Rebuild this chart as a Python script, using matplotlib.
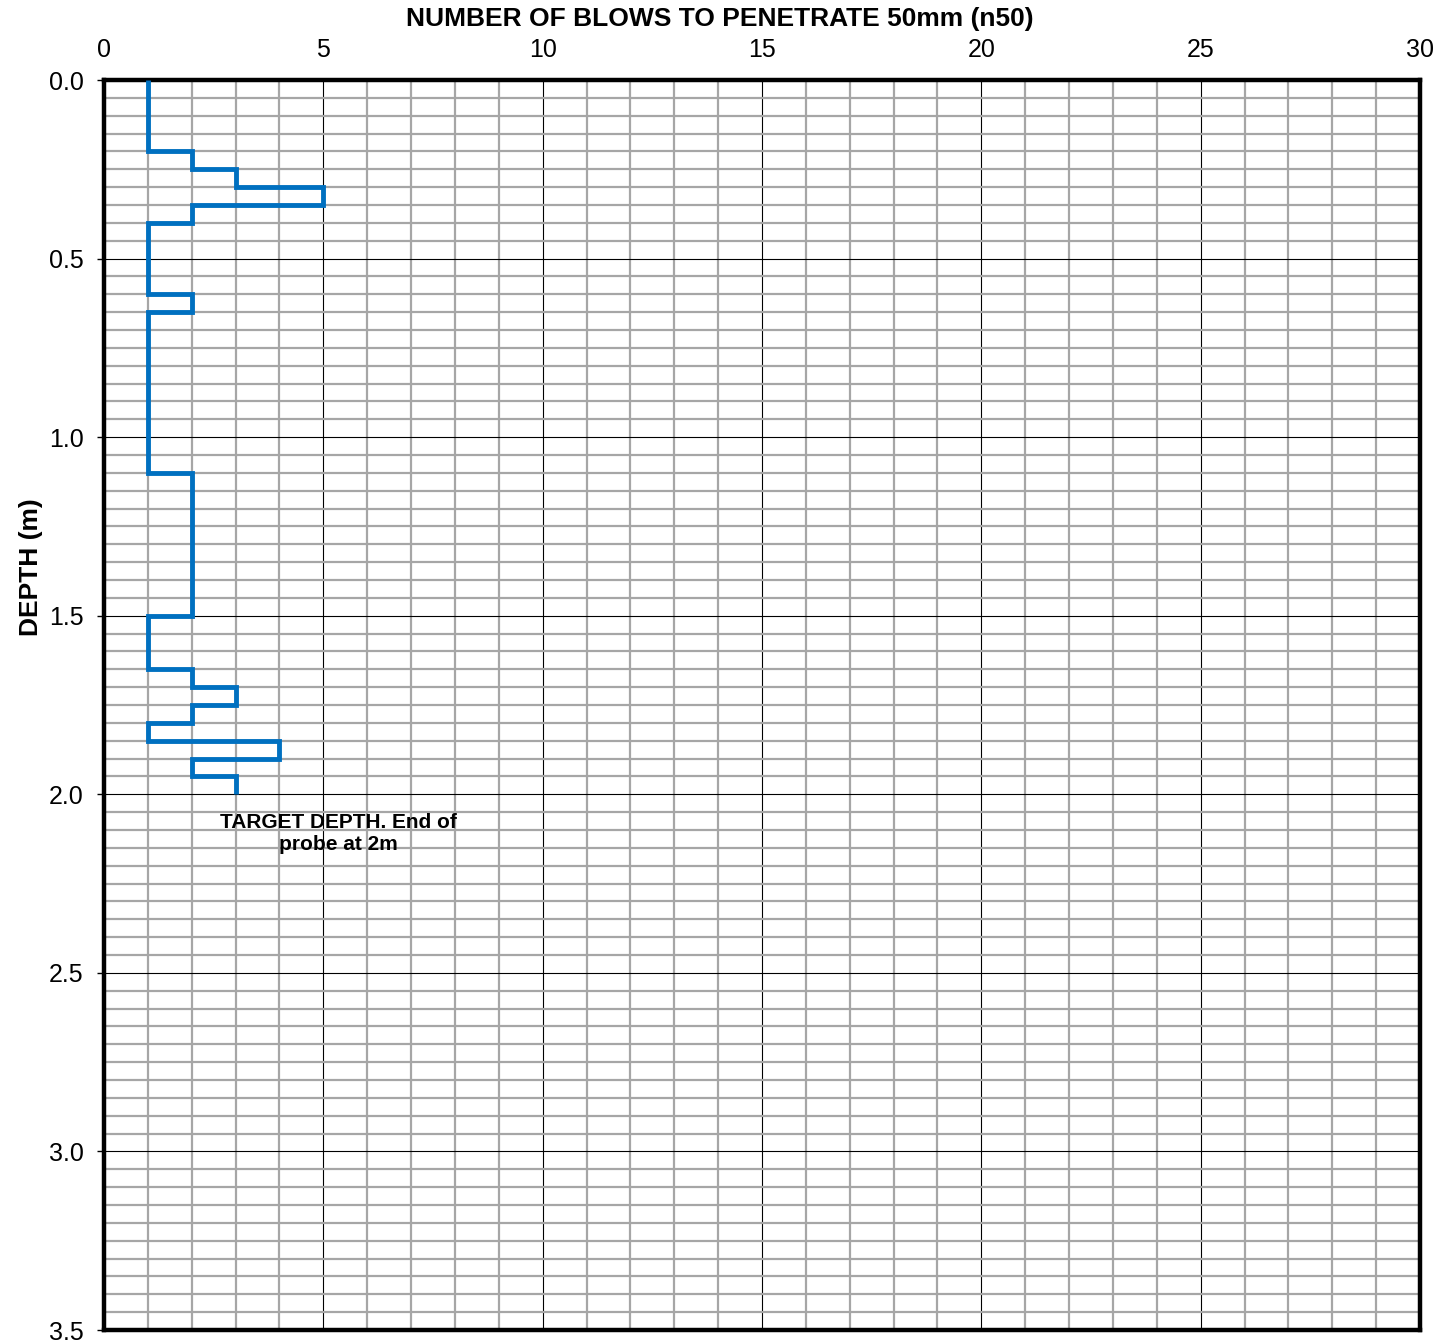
import numpy as np
import matplotlib
matplotlib.use("Agg")
import matplotlib.pyplot as plt
from matplotlib.ticker import MultipleLocator

plt.rcParams['font.family'] = ['Liberation Sans', 'DejaVu Sans']

# Dynamic probe record: blows per 50 mm increment
interval = 0.05
blows = [1, 1, 1, 1, 2, 3, 5, 2,
         1, 1, 1, 1, 2,
         1, 1, 1, 1, 1, 1, 1, 1, 1,
         2, 2, 2, 2, 2, 2, 2, 2,
         1, 1, 1, 2, 3, 2, 1, 4, 2, 3]
x_ticks = [0, 5, 10, 15, 20, 25, 30]
y_ticks = [0.0, 0.5, 1.0, 1.5, 2.0, 2.5, 3.0, 3.5]
note = "TARGET DEPTH. End of\nprobe at 2m"

tops = np.arange(len(blows)) * interval
bottoms = tops + interval
xs = np.repeat(blows, 2)
ys = np.column_stack([tops, bottoms]).ravel()

fig = plt.figure(figsize=(14.46, 13.42), dpi=100)
ax = fig.add_axes([104 / 1446, 1 - 1330 / 1342, (1420 - 104) / 1446, (1330 - 80) / 1342])

ax.set_xlim(0, 30)
ax.set_ylim(3.5, 0)

ax.xaxis.set_minor_locator(MultipleLocator(1))
ax.yaxis.set_minor_locator(MultipleLocator(0.05))
ax.set_xticks(x_ticks)
ax.set_yticks(y_ticks)
ax.set_yticklabels([f"{v:.1f}" for v in y_ticks])

ax.grid(which='minor', color='#a6a6a6', linewidth=1.6, zorder=0)
ax.grid(which='major', color='black', linewidth=0.8, zorder=0.5)
ax.set_axisbelow(True)

ax.plot(xs, ys, color='#0070C0', linewidth=3.5, solid_joinstyle='miter',
        solid_capstyle='butt', zorder=3)

ax.text(5.35, 2.11, note, ha='center', va='center', fontsize=15,
        fontweight='bold', linespacing=1.25, zorder=4)

ax.xaxis.tick_top()
ax.xaxis.set_label_position('top')
ax.tick_params(axis='x', which='both', length=0, pad=13, labelsize=18)
ax.tick_params(axis='y', which='major', length=5, width=1, pad=9.5, labelsize=18)
ax.tick_params(axis='y', which='minor', length=0)

ax.set_xlabel("NUMBER OF BLOWS TO PENETRATE 50mm (n50)", fontsize=19,
              fontweight='bold')
ax.xaxis.set_label_coords(0.468, 1.043)
ax.set_ylabel("DEPTH (m)", fontsize=19, fontweight='bold')
ax.yaxis.set_label_coords(-0.046, 0.61)

for s in ax.spines.values():
    s.set_linewidth(3.2)
    s.set_color('black')

fig.savefig("out.png", dpi=100)
